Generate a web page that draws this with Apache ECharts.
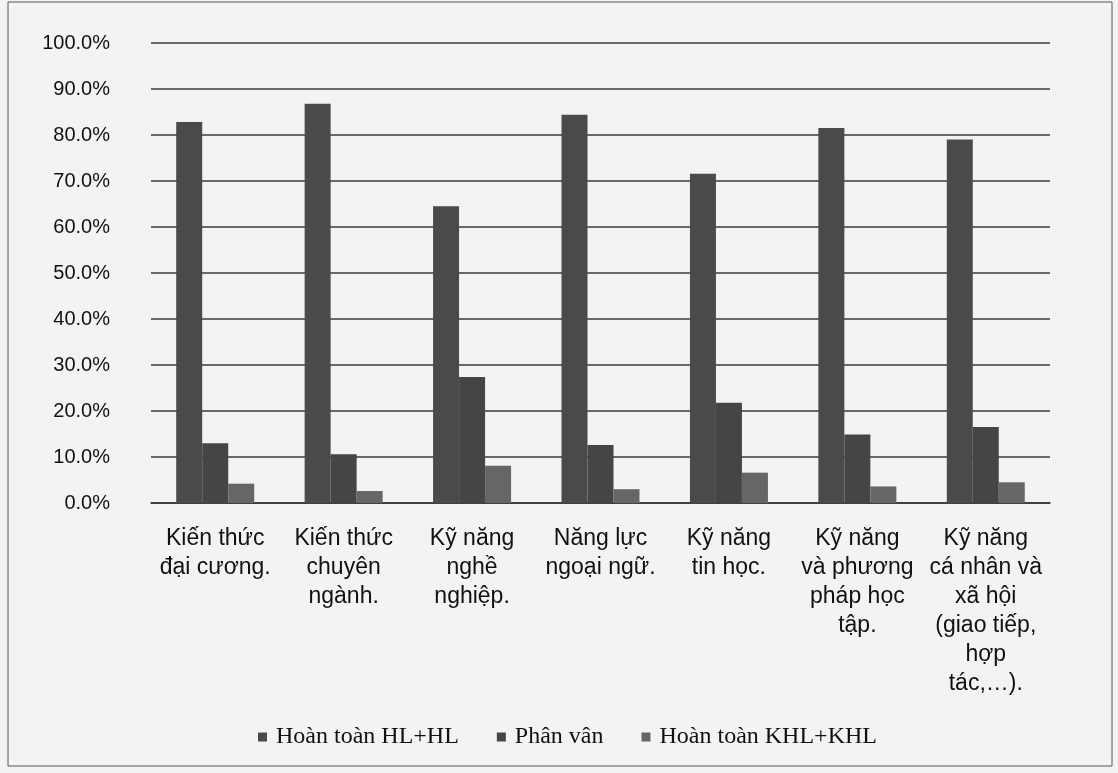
<!DOCTYPE html>
<html>
<head>
<meta charset="utf-8">
<script src="https://cdn.jsdelivr.net/npm/echarts@6/dist/echarts.min.js"></script>
<style>
html,body{margin:0;padding:0;background:#f3f3f2;}
#c{width:1118px;height:773px;}
</style>
</head>
<body>
<div id="c"></div>
<script>
const categories = [
  "Kiến thức\nđại cương.",
  "Kiến thức\nchuyên\nngành.",
  "Kỹ năng\nnghề\nnghiệp.",
  "Năng lực\nngoại ngữ.",
  "Kỹ năng\ntin học.",
  "Kỹ năng\nvà phương\npháp học\ntập.",
  "Kỹ năng\ncá nhân và\nxã hội\n(giao tiếp,\nhợp\ntác,…)."
];
const seriesNames = ["Hoàn toàn HL+HL", "Phân vân", "Hoàn toàn KHL+KHL"];
const hoanToanHL = [82.8, 86.8, 64.5, 84.4, 71.6, 81.5, 79.0];
const phanVan = [13.0, 10.6, 27.4, 12.6, 21.8, 14.9, 16.5];
const hoanToanKHL = [4.2, 2.6, 8.1, 3.0, 6.6, 3.6, 4.5];
const yTicks = [0, 10, 20, 30, 40, 50, 60, 70, 80, 90, 100];

const colors = ["#4a4a4a", "#454545", "#666666"];
const chart = echarts.init(document.getElementById('c'), null, {renderer: 'canvas'});
chart.setOption({
  backgroundColor: '#f3f3f2',
  animation: false,
  color: colors,
  graphic: [{
    type: 'rect',
    shape: {x: 8, y: 2, width: 1104, height: 764},
    style: {fill: 'none', stroke: '#555', lineWidth: 1}
  }],
  grid: {left: 151, right: 68, top: 43, bottom: 270},
  legend: {
    top: 720,
    left: 253,
    itemWidth: 9,
    itemHeight: 9,
    itemGap: 38,
    icon: 'rect',
    textStyle: {fontFamily: 'Liberation Serif', fontSize: 24, color: '#111', padding: [0, 0, 0, 4]},
    data: seriesNames
  },
  xAxis: {
    type: 'category',
    data: categories,
    axisLine: {show: true, lineStyle: {color: '#333', width: 1.5}},
    axisTick: {show: false},
    axisLabel: {
      interval: 0,
      margin: 21,
      fontFamily: 'Liberation Sans',
      fontSize: 23,
      lineHeight: 29,
      color: '#111',
      align: 'center'
    }
  },
  yAxis: {
    type: 'value',
    min: 0,
    max: 100,
    interval: 10,
    axisLine: {show: false},
    axisTick: {show: false},
    splitLine: {lineStyle: {color: '#3a3a3a', width: 1.5}},
    axisLabel: {
      margin: 41,
      fontFamily: 'Liberation Sans',
      fontSize: 20,
      color: '#111',
      formatter: function (v) { return yTicks.indexOf(v) >= 0 ? v.toFixed(1) + '%' : ''; }
    }
  },
  series: [
    {name: seriesNames[0], type: 'bar', data: hoanToanHL, barWidth: 26, barGap: '0%', itemStyle: {color: colors[0]}},
    {name: seriesNames[1], type: 'bar', data: phanVan, barWidth: 26, barGap: '0%', itemStyle: {color: colors[1]}},
    {name: seriesNames[2], type: 'bar', data: hoanToanKHL, barWidth: 26, barGap: '0%', itemStyle: {color: colors[2]}}
  ]
});
</script>
</body>
</html>
